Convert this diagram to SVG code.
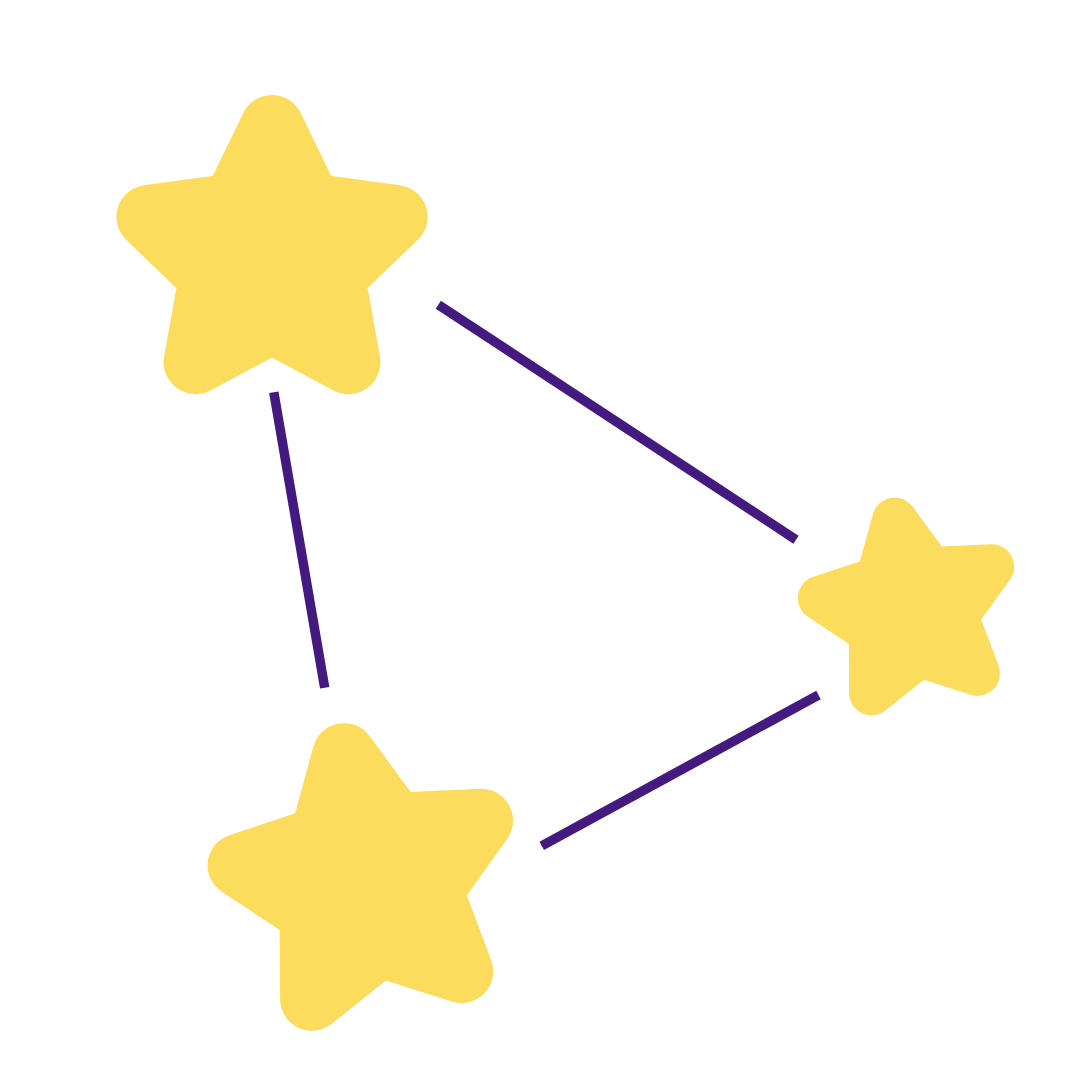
<svg xmlns="http://www.w3.org/2000/svg" width="1080" height="1080" viewBox="0 0 1080 1080">
  <style>
    .star { fill: #FCDC5C; stroke: #FCDC5C; stroke-width: 63.8; stroke-linejoin: round; }
    .link { stroke: #441A80; stroke-width: 9.5; stroke-linecap: butt; fill: none; }
  </style>
  <defs>
    <polygon id="starShape" points="0,-130.1 37.8,-52 123.7,-40.2 61.2,19.9 76.5,105.3 0,64.3 -76.5,105.3 -61.2,19.9 -123.7,-40.2 -37.8,-52"/>
  </defs>
  <rect width="1080" height="1080" fill="#FFFFFF"/>
  <g id="connectors">
    <line class="link" x1="273.8" y1="392.2" x2="324.7" y2="687.7"/>
    <line class="link" x1="438.3" y1="304.7" x2="796" y2="539.7"/>
    <line class="link" x1="541.7" y1="845.8" x2="818.5" y2="695"/>
  </g>
  <g id="star-top-left">
    <use href="#starShape" class="star" transform="translate(272,257)"/>
  </g>
  <g id="star-right">
    <use href="#starShape" class="star" transform="translate(911.1,610.2) rotate(-10.4) scale(0.704)"/>
  </g>
  <g id="star-bottom">
    <use href="#starShape" class="star" transform="translate(367.6,882.2) rotate(-10.5) scale(0.995)"/>
  </g>
</svg>
